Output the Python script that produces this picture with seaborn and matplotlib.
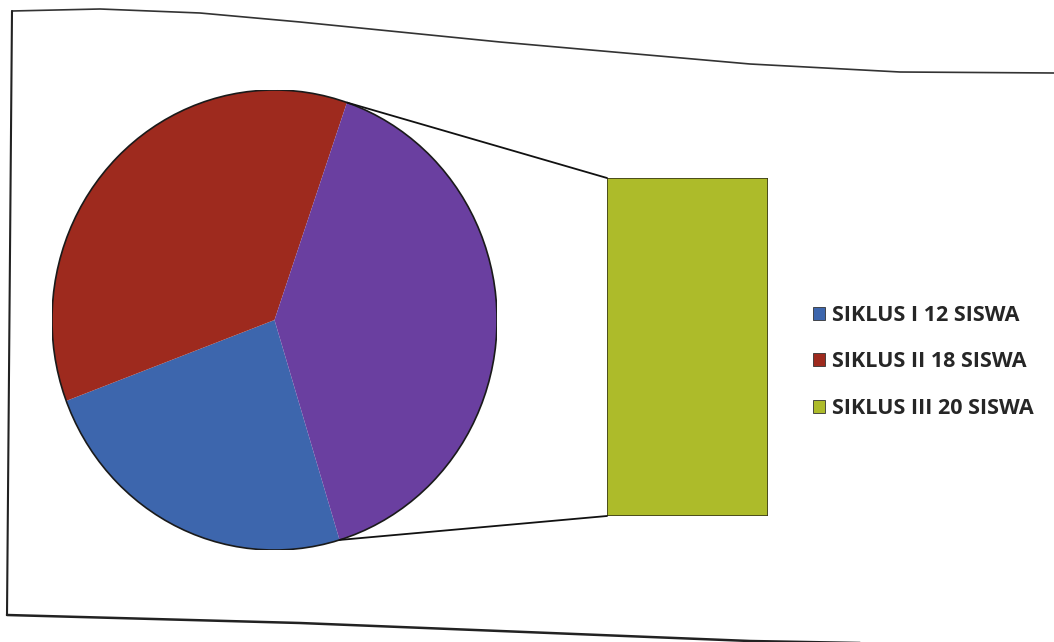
import matplotlib
matplotlib.use("Agg")
import matplotlib.pyplot as plt
import seaborn as sns
import pandas as pd
import numpy as np
from matplotlib.patches import ConnectionPatch, Ellipse, Patch
from matplotlib.lines import Line2D

# ---- data ----
categories = ["SIKLUS I", "SIKLUS II", "SIKLUS III"]
values = [12, 18, 20]
unit = "SISWA"
pie_colors = ["#3d66ad", "#9e2a1e", "#6a3fa0"]
bar_color = "#adbb2a"

sns.set_theme(style="white")
plt.rcParams["font.family"] = ["Open Sans", "DejaVu Sans"]

W, H = 1054, 642
fig = plt.figure(figsize=(W / 100, H / 100), dpi=100)
fig.patch.set_facecolor("white")

def px_axes(x0, y0, x1, y1):
    return fig.add_axes([x0 / W, 1 - y1 / H, (x1 - x0) / W, (y1 - y0) / H])

# ---- pie ----
ax1 = px_axes(52, 90, 497, 550)
start = -73
wedges, _ = ax1.pie(values, colors=pie_colors, startangle=start, counterclock=False,
                    wedgeprops=dict(linewidth=0))
ax1.set_aspect("auto")
ax1.set_xlim(-1, 1)
ax1.set_ylim(-1, 1)
ax1.add_patch(Ellipse((0, 0), 2, 2, fill=False, edgecolor="#1a1a1a", linewidth=1.2))
ax1.axis("off")

# ---- bar of the broken-out slice ----
ax2 = px_axes(607, 178, 768, 516)
df = pd.DataFrame({"cat": [categories[2]], "val": [values[2]]})
sns.barplot(data=df, x="cat", y="val", ax=ax2, color=bar_color, width=1.0,
            edgecolor="#3a3a1a", linewidth=1.2, saturation=1)
ax2.set_xlim(-0.5, 0.5)
ax2.set_ylim(0, values[2])
ax2.axis("off")

# ---- connector lines ----
total = sum(values)
theta_top = np.deg2rad(start - 360 * (values[0] + values[1]) / total)
theta_bot = np.deg2rad(start)
for theta, yb in [(theta_top, values[2]), (theta_bot, 0)]:
    con = ConnectionPatch(xyA=(np.cos(theta), np.sin(theta)), coordsA=ax1.transData,
                          xyB=(-0.5, yb), coordsB=ax2.transData,
                          color="#111111", linewidth=1.3)
    fig.add_artist(con)

# ---- legend ----
handles = [Patch(facecolor=c, edgecolor="#333333", linewidth=0.6)
           for c in [pie_colors[0], pie_colors[1], bar_color]]
labels = [f"{c} {v} {unit}" for c, v in zip(categories, values)]
fig.legend(handles, labels, loc="center left", bbox_to_anchor=(794 / W, 1 - 362 / H),
           frameon=False, prop=dict(weight="bold", size=15.5), handlelength=0.55,
           handleheight=0.55, handletextpad=0.3, labelspacing=1.2)

# ---- photo frame ----
top_x = [12, 100, 200, 300, 500, 750, 900, 1054]
top_y = [11, 9, 13, 22, 42, 64, 72, 73]
fig.add_artist(Line2D([x / W for x in top_x], [1 - y / H for y in top_y],
                      color="#333333", linewidth=1.2))
fig.add_artist(Line2D([12 / W, 7 / W], [1 - 11 / H, 1 - 615 / H],
                      color="#222222", linewidth=1.5))
bot_x = [7, 300, 750, 860]
bot_y = [615, 623, 641, 643]
fig.add_artist(Line2D([x / W for x in bot_x], [1 - y / H for y in bot_y],
                      color="#222222", linewidth=1.8))

fig.savefig("out.png", dpi=100, facecolor="white")
